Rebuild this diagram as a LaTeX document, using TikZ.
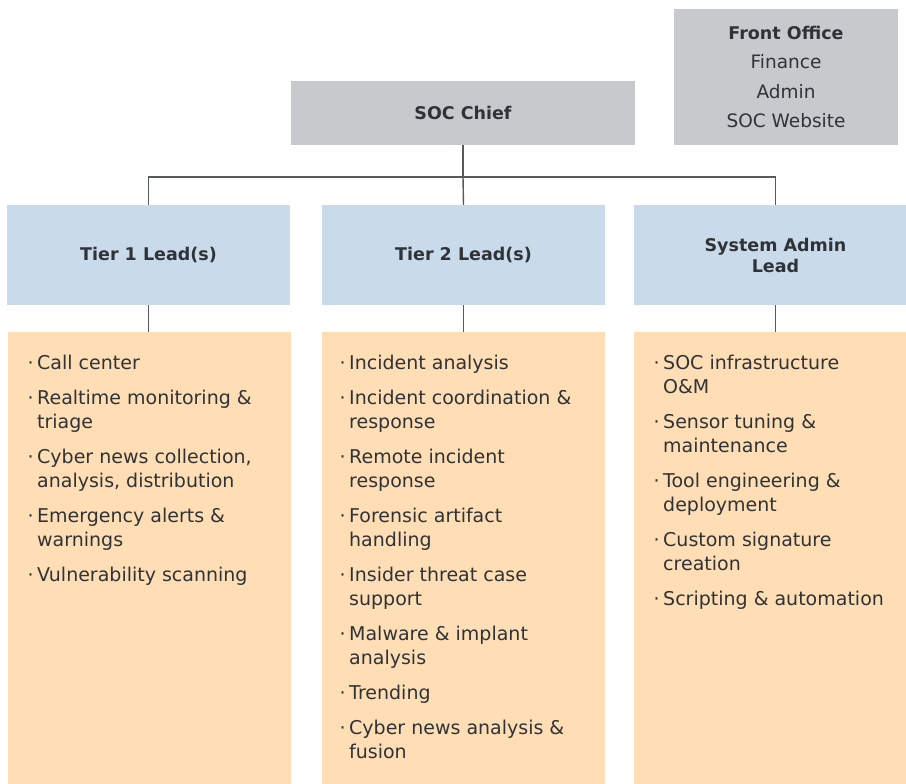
\documentclass[tikz,border=0pt]{standalone}
\usepackage{fontspec}
\setmainfont{DejaVu Sans}
\newfontfamily\medfont{DejaVu Sans Bold}
\definecolor{boxgray}{HTML}{C7C9CD}
\definecolor{boxblue}{HTML}{C9DAEA}
\definecolor{boxorange}{HTML}{FFDDB5}
\definecolor{txt}{HTML}{2F3337}
\definecolor{conn}{HTML}{555A5F}
\newcommand{\bitem}[1]{\par\hangindent=11pt\hangafter=1\noindent\makebox[11pt][l]{\kern1.5pt·}#1}
\newcommand{\blist}[1]{\parbox[t]{260pt}{\fontsize{19}{24}\selectfont\setlength{\parskip}{11pt}\setlength{\parindent}{0pt}#1}}
\tikzset{
  graybox/.style={fill=boxgray, inner sep=0pt, text=txt, align=center},
  bluebox/.style={fill=boxblue, minimum width=283pt, minimum height=100pt, inner sep=0pt, text=txt, align=center, font=\medfont\fontsize{17.5}{21}\selectfont},
  orangebox/.style={fill=boxorange, minimum width=283pt, minimum height=460pt, inner sep=0pt, anchor=north},
  listtext/.style={anchor=base west, inner sep=0pt, text=txt},
  connector/.style={draw=conn, line width=1.4pt}
}
\begin{document}
\begin{tikzpicture}[x=1pt,y=-1pt]
\useasboundingbox (0,0) rectangle (906,784);
\clip (0,0) rectangle (906,784);
\fill[white] (0,0) rectangle (906,784);
% top boxes
\node[graybox, minimum width=344pt, minimum height=64pt, font=\medfont\fontsize{17.5}{21}\selectfont] (chief) at (463,113) {SOC Chief};
\node[graybox, minimum width=224pt, minimum height=136pt, font=\fontsize{18.5}{29.5}\selectfont] (front) at (786,77) {{\medfont\fontsize{17.5}{29.5}\selectfont Front Office}\\Finance\\Admin\\SOC Website};
% lead boxes
\node[bluebox] (t1) at (148.5,255) {Tier 1 Lead(s)};
\node[bluebox] (t2) at (463.5,255) {Tier 2 Lead(s)};
\node[bluebox] (sa) at (775.5,255) {System Admin\\Lead};
% task boxes
\node[orangebox] (d1) at (149.5,332) {};
\node[orangebox] (d2) at (463.5,332) {};
\node[orangebox] (d3) at (775.5,332) {};
% connectors
\coordinate (bus) at (463,177);
\draw[connector] (chief.south) -- (bus);
\draw[connector] (bus) -| (t1.north);
\draw[connector] (bus) -| (sa.north);
\draw[connector] (bus) -- (t2.north);
\draw[connector] (t1.south) -- (t1.south |- d1.north);
\draw[connector] (t2.south) -- (d2.north);
\draw[connector] (sa.south) -- (d3.north);
% lists
\node[listtext] (l1) at (26,369.5) {\blist{%
\bitem{Call center}
\bitem{Realtime monitoring \&\newline triage}
\bitem{Cyber news collection,\newline analysis, distribution}
\bitem{Emergency alerts \&\newline warnings}
\bitem{Vulnerability scanning}}};
\node[listtext] (l2) at (338,369.5) {\blist{%
\bitem{Incident analysis}
\bitem{Incident coordination \&\newline response}
\bitem{Remote incident\newline response}
\bitem{Forensic artifact\newline handling}
\bitem{Insider threat case\newline support}
\bitem{Malware \& implant\newline analysis}
\bitem{Trending}
\bitem{Cyber news analysis \&\newline fusion}}};
\node[listtext] (l3) at (652,369.5) {\blist{%
\bitem{SOC infrastructure\newline O\&M}
\bitem{Sensor tuning \&\newline maintenance}
\bitem{Tool engineering \&\newline deployment}
\bitem{Custom signature\newline creation}
\bitem{Scripting \& automation}}};
\end{tikzpicture}
\end{document}
